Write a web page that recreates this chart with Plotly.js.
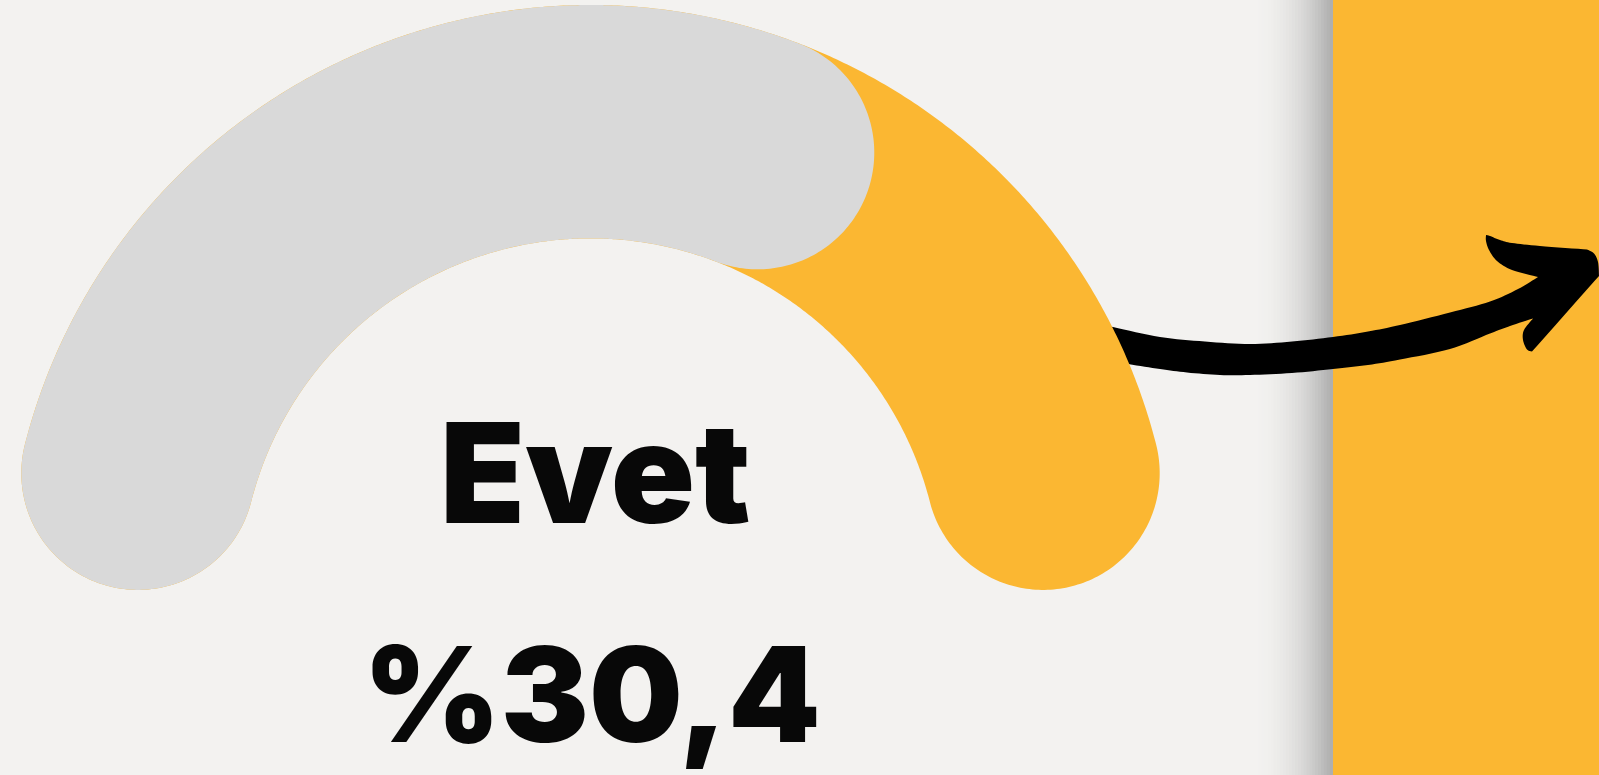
<!DOCTYPE html>
<html>
<head>
<meta charset="utf-8">
<script src="https://cdn.plot.ly/plotly-3.0.1.min.js"></script>
<style>
  html, body { margin: 0; padding: 0; background: #f3f2f0; overflow: hidden; }
  #chart { width: 1599px; height: 775px; }
</style>
</head>
<body>
<div id="chart"></div>
<script>
// ---- data ----
const categories = ['Evet', 'Hayır'];
const values = [30.4, 69.6];
const colors = ['#fbb732', '#d9d9d9'];

// ---- layout geometry (pixel space: axes map 1 unit = 1 px) ----
const W = 1599, H = 775;
const cx = 590.5, cy = 588.7;   // gauge centre
const R = 467;                  // centre-line radius
const halfT = 116.7;            // half of band thickness
const capDeg = (halfT / R) * 180 / Math.PI;

const total = values.reduce((a, b) => a + b, 0);

function pt(aDeg, r) {
  const a = aDeg * Math.PI / 180;
  return [cx + r * Math.cos(a), cy - r * Math.sin(a)];
}

// outline of a thick arc with round caps, from centre-line angle a0 down to a1 (degrees)
function band(a0, a1) {
  const xs = [], ys = [];
  const n = 400;
  for (let i = 0; i <= n; i++) {
    const a = a0 + (a1 - a0) * i / n;
    const p = pt(a, R + halfT); xs.push(p[0]); ys.push(p[1]);
  }
  capPts(a1, -1, xs, ys, false);
  for (let i = 0; i <= n; i++) {
    const a = a1 + (a0 - a1) * i / n;
    const p = pt(a, R - halfT); xs.push(p[0]); ys.push(p[1]);
  }
  capPts(a0, 1, xs, ys, true);
  xs.push(xs[0]); ys.push(ys[0]);
  return { xs, ys };
}
function capPts(aDeg, dir, xs, ys, fromInner) {
  const c = pt(aDeg, R);
  const a = aDeg * Math.PI / 180;
  const ur = [Math.cos(a), -Math.sin(a)];
  const tDec = [Math.sin(a), Math.cos(a)];
  const ut = dir === -1 ? tDec : [-tDec[0], -tDec[1]];
  const u = fromInner ? [-ur[0], -ur[1]] : ur;
  const m = 120;
  for (let i = 0; i <= m; i++) {
    const phi = Math.PI * i / m;
    xs.push(c[0] + halfT * (Math.cos(phi) * u[0] + Math.sin(phi) * ut[0]));
    ys.push(c[1] + halfT * (Math.cos(phi) * u[1] + Math.sin(phi) * ut[1]));
  }
}

// full track spans 180 degrees including the round caps
const startA = 180 - capDeg;
const track = band(startA, capDeg);
const greyEnd = 180 - (values[1] / total) * 180 + capDeg;
const grey = band(startA, greyEnd);

// ---- arrow (decoration), smoothed with Catmull-Rom per segment ----
function smooth(seg, steps) {
  const out = [];
  for (let i = 0; i < seg.length - 1; i++) {
    const p0 = seg[Math.max(0, i - 1)], p1 = seg[i], p2 = seg[i + 1], p3 = seg[Math.min(seg.length - 1, i + 2)];
    for (let s = 0; s < steps; s++) {
      const t = s / steps, t2 = t * t, t3 = t2 * t;
      const f = k => 0.5 * ((2 * p1[k]) + (-p0[k] + p2[k]) * t + (2 * p0[k] - 5 * p1[k] + 4 * p2[k] - p3[k]) * t2 + (-p0[k] + 3 * p1[k] - 3 * p2[k] + p3[k]) * t3);
      out.push([f(0), f(1)]);
    }
  }
  return out;
}
const arrowSegs = [
  [[1080, 320], [1113, 327], [1160, 337], [1205, 341.5], [1250, 344], [1292, 341.5], [1333, 337], [1368, 331.5], [1400, 325], [1450, 312.5], [1490, 301.5], [1518, 289], [1538, 277]],
  [[1538, 277], [1512, 270], [1497, 261], [1489, 250], [1486, 241], [1486, 235]],
  [[1486, 235], [1490, 236], [1500, 240], [1512, 243], [1540, 246], [1587, 249.5]],
  [[1587, 249.5], [1594, 253.5], [1598, 262], [1599, 276]],
  [[1599, 276], [1532, 351.5]],
  [[1532, 351.5], [1527, 349.5], [1523, 340], [1524, 330], [1533, 318.5]],
  [[1533, 318.5], [1510, 326], [1490, 333.5], [1450, 349], [1400, 359.5], [1368, 365], [1333, 369], [1292, 373], [1250, 375], [1220, 375], [1187, 372.5], [1160, 369], [1128, 364], [1090, 357]]
];
let arrowPts = [];
arrowSegs.forEach(seg => { arrowPts = arrowPts.concat(smooth(seg, 8)); });
arrowPts.push([1090, 357]);

const traces = [
  { x: arrowPts.map(p => p[0]), y: arrowPts.map(p => p[1]), type: 'scatter', mode: 'lines',
    fill: 'toself', fillcolor: '#000000', line: { width: 0, color: '#000000', simplify: false },
    hoverinfo: 'skip', showlegend: false },
  { x: track.xs, y: track.ys, type: 'scatter', mode: 'lines', fill: 'toself',
    fillcolor: colors[0], line: { width: 0, color: colors[0], simplify: false }, hoverinfo: 'skip',
    name: categories[0] },
  { x: grey.xs, y: grey.ys, type: 'scatter', mode: 'lines', fill: 'toself',
    fillcolor: colors[1], line: { width: 0, color: colors[1], simplify: false }, hoverinfo: 'skip',
    name: categories[1] }
];

// ---- decoration: yellow side panel and its shadow ----
const shapes = [];
shapes.push({ type: 'rect', xref: 'x', yref: 'y', x0: 1332.7, x1: W, y0: 0, y1: H,
  fillcolor: colors[0], line: { width: 0 }, layer: 'below' });
const bg = [243, 242, 240], dark = [172, 172, 172];
const sx0 = 1250, sx1 = 1332.7, nb = 28;
for (let i = 0; i < nb; i++) {
  const t = (i + 0.5) / nb;
  const m = Math.pow(t, 2.1);
  const c = bg.map((v, k) => Math.round(v * (1 - m) + dark[k] * m));
  shapes.push({ type: 'rect', xref: 'x', yref: 'y',
    x0: sx0 + (sx1 - sx0) * i / nb, x1: sx0 + (sx1 - sx0) * (i + 1) / nb + 0.3,
    y0: 0, y1: H, fillcolor: 'rgb(' + c.join(',') + ')', line: { width: 0 }, layer: 'below' });
}

const pctLabel = '%' + values[0].toFixed(1).replace('.', ',');
const fontFamily = 'Inter, "Open Sans", sans-serif';

const layout = {
  width: W, height: H,
  margin: { l: 0, r: 0, t: 0, b: 0, pad: 0 },
  paper_bgcolor: '#f3f2f0', plot_bgcolor: '#f3f2f0',
  showlegend: false, hovermode: false,
  xaxis: { range: [0, W], visible: false, fixedrange: true },
  yaxis: { range: [H, 0], visible: false, fixedrange: true },
  shapes: shapes,
  annotations: [
    { x: 595.5, y: 472.2, xref: 'x', yref: 'y', text: categories[0], showarrow: false,
      xanchor: 'center', yanchor: 'middle',
      font: { family: fontFamily, size: 139, color: '#080808', weight: 900 } },
    { x: 591.5, y: 694, xref: 'x', yref: 'y', text: pctLabel, showarrow: false,
      xanchor: 'center', yanchor: 'middle',
      font: { family: fontFamily, size: 132, color: '#080808', weight: 900 } }
  ]
};

Plotly.newPlot('chart', traces, layout, { displayModeBar: false, staticPlot: true });
</script>
</body>
</html>
